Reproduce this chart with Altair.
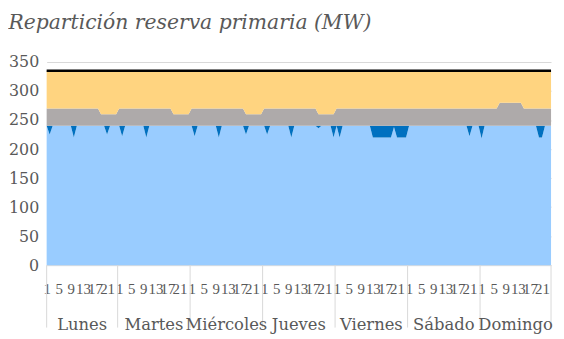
import altair as alt
import pandas as pd

dias = ["Lunes", "Martes", "Miércoles", "Jueves", "Viernes", "Sábado", "Domingo"]

# Upper edge of the light-blue area (MW), 24 hourly values per day
azul_claro = [
    [240, 225, 240, 240, 240, 240, 240, 240, 240, 220, 240, 240, 240, 240, 240, 240, 240, 240, 240, 240, 225, 240, 240, 240],
    [240, 222, 240, 240, 240, 240, 240, 240, 240, 220, 240, 240, 240, 240, 240, 240, 240, 240, 240, 240, 240, 240, 240, 240],
    [240, 222, 240, 240, 240, 240, 240, 240, 240, 220, 240, 240, 240, 240, 240, 240, 240, 240, 225, 240, 240, 240, 240, 240],
    [240, 225, 240, 240, 240, 240, 240, 240, 240, 220, 240, 240, 240, 240, 240, 240, 240, 240, 236, 240, 240, 240, 240, 220],
    [240, 220, 240, 240, 240, 240, 240, 240, 240, 240, 240, 240, 220, 220, 220, 220, 220, 220, 220, 238, 220, 220, 220, 220],
    [240, 240, 240, 240, 240, 240, 240, 240, 240, 240, 240, 240, 240, 240, 240, 240, 240, 240, 240, 240, 222, 240, 240, 240],
    [218, 240, 240, 240, 240, 240, 240, 240, 240, 240, 240, 240, 240, 240, 240, 240, 240, 240, 240, 220, 220, 240, 240, 240],
]
# Upper edge of the dark-blue area (MW)
azul_oscuro = [
    [240] * 24, [240] * 24, [240] * 24, [240] * 24, [240] * 24, [240] * 24, [240] * 24,
]
# Upper edge of the grey area (MW)
gris = [
    [270] * 18 + [260] * 6,
    [270] * 18 + [260] * 6,
    [270] * 18 + [260] * 6,
    [270] * 18 + [260] * 6,
    [270] * 24,
    [270] * 24,
    [270] * 6 + [280] * 8 + [270] * 10,
]
# Upper edge of the orange area / total (MW)
total = [
    [335] * 24, [335] * 24, [335] * 24, [335] * 24, [335] * 24, [335] * 24, [335] * 24,
]

horas = list(range(1, 25))
etiquetas_hora = [1, 5, 9, 13, 17, 21]

rows = []
for d in range(len(dias)):
    for i, hr in enumerate(horas):
        rows.append({
            "h": d * 24 + i,
            "dia": dias[d],
            "hora": hr,
            "azul": azul_claro[d][i],
            "azul_top": azul_oscuro[d][i],
            "gris": gris[d][i],
            "total": total[d][i],
        })
df = pd.DataFrame(rows)
n = len(df)

lim = [0] + [24 * d - 0.5 for d in range(1, len(dias))] + [n - 1]
df_sep = pd.DataFrame({"h": lim})
df_dias = pd.DataFrame({"dia": dias, "h": [(lim[i] + lim[i + 1]) / 2 for i in range(len(dias))]})

W, H = 509, 205
FONT = "DejaVu Serif"
TXT = "#595959"

xscale = alt.Scale(domain=[0, n - 1], nice=False, zero=False)
yscale = alt.Scale(domain=[0, 350], nice=False)

xax = alt.Axis(
    values=[d * 24 + (e - 1) for d in range(len(dias)) for e in etiquetas_hora],
    labelExpr="'' + ((datum.value % 24) + 1)",
    title=None, ticks=False, domain=False, grid=False,
    labelFont="Liberation Serif", labelFontSize=15, labelColor=TXT,
    labelPadding=17, labelOverlap=False, labelFlush=False,
)
yax = alt.Axis(values=list(range(0, 351, 50)), title=None, grid=True,
               gridColor="#D9D9D9", gridWidth=1, ticks=False, domain=False,
               labelFont=FONT, labelFontSize=16, labelColor=TXT, labelPadding=8,
               labelOverlap=False)

x = alt.X("h:Q", scale=xscale, axis=xax)


def Y(field):
    return alt.Y(field, scale=yscale, axis=yax, stack=None)


base = alt.Chart(df)
a1 = base.mark_area(color="#99CCFF").encode(x=x, y=Y("azul:Q"))
a2 = base.mark_area(color="#0070C0").encode(x=x, y=Y("azul_top:Q"), y2="azul:Q")
a3 = base.mark_area(color="#AEAAAA").encode(x=x, y=Y("gris:Q"), y2="azul_top:Q")
a4 = base.mark_area(color="#FFD480").encode(x=x, y=Y("total:Q"), y2="gris:Q")
linea = base.mark_line(color="#000000", strokeWidth=2.5).encode(x=x, y=Y("total:Q"))

sep = alt.Chart(df_sep).mark_rule(color="#D9D9D9", strokeWidth=1).encode(
    x=x, y=alt.value(H), y2=alt.value(H + 63))
txt_dias = alt.Chart(df_dias).mark_text(font=FONT, fontSize=16.5, color=TXT, baseline="middle").encode(
    x=x, y=alt.value(H + 60), text="dia:N")

chart = alt.layer(a1, a2, a3, a4, linea, sep, txt_dias).properties(
    width=W, height=H,
    padding={"left": 0, "top": 3, "right": 0, "bottom": 0},
    title=alt.TitleParams("Repartición reserva primaria (MW)", font=FONT, fontStyle="italic",
                          fontSize=20.5, fontWeight="normal", color=TXT,
                          anchor="start", frame="bounds", offset=21),
).configure_view(stroke=None)

chart.save("out.html", embed_options={"renderer": "svg", "actions": False})
